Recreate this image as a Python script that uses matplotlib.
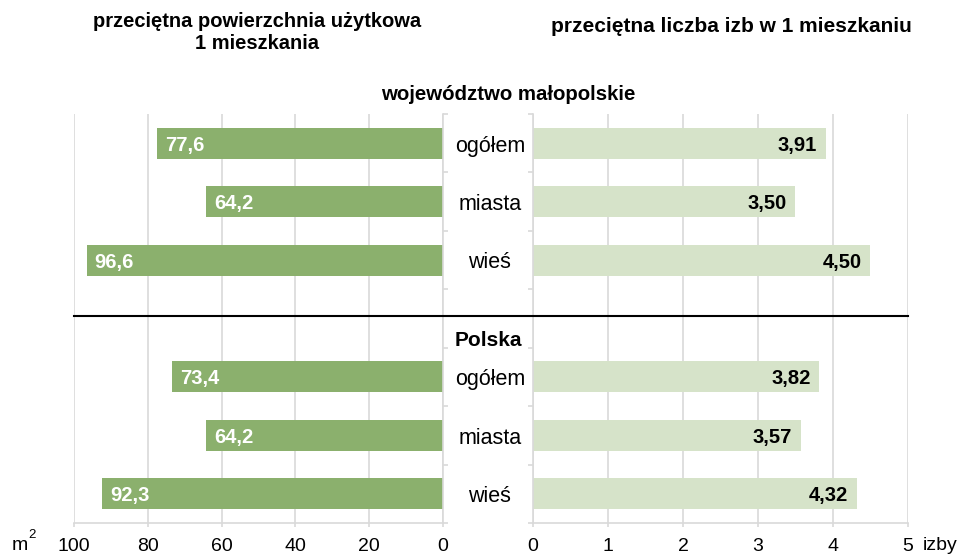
#!/usr/bin/env python3

import matplotlib
matplotlib.use('Agg')
import matplotlib.pyplot as plt
from matplotlib.lines import Line2D

plt.rcParams['font.family'] = ['Liberation Sans', 'DejaVu Sans']

# categories, top block = województwo małopolskie, bottom block = Polska
categories = ['ogółem', 'miasta', 'wieś']
area_region = [77.6, 64.2, 96.6]
area_poland = [73.4, 64.2, 92.3]
rooms_region = [3.91, 3.50, 4.50]
rooms_poland = [3.82, 3.57, 4.32]

area_labels = ['77,6', '64,2', '96,6', '73,4', '64,2', '92,3']
rooms_labels = ['3,91', '3,50', '4,50', '3,82', '3,57', '4,32']

area_ticks = [100, 80, 60, 40, 20, 0]
rooms_ticks = [0, 1, 2, 3, 4, 5]

dark_green = '#8BB06D'
light_green = '#D6E3C9'
grid_grey = '#D9D9D9'

# row slots: 0-2 region, 3 separator, 4-6 Poland
rows = [0, 1, 2, 4, 5, 6]
area = area_region + area_poland
rooms = rooms_region + rooms_poland

fig = plt.figure(figsize=(9.6, 5.55), dpi=100)
ax1 = fig.add_axes([0.0771, 0.0577, 0.3844, 0.737])
ax2 = fig.add_axes([0.5552, 0.0577, 0.3906, 0.737])

def style_axis(ax, inner):
  ax.set_ylim(6.5, -0.5)
  ax.set_axisbelow(True)
  ax.grid(axis='x', color=grid_grey, linewidth=1.2)
  for s in ['top', 'left', 'right']:
    ax.spines[s].set_visible(False)
  ax.spines[inner].set_visible(True)
  ax.spines[inner].set_color(grid_grey)
  ax.spines[inner].set_linewidth(1.2)
  ax.spines['bottom'].set_color(grid_grey)
  ax.spines['bottom'].set_linewidth(1.2)
  ax.yaxis.set_ticks_position(inner)
  ax.set_yticks([r - 0.5 for r in range(8)])
  ax.set_yticklabels([])
  ax.tick_params(axis='y', direction='out', length=3.5, color=grid_grey, width=1.2)
  ax.tick_params(axis='x', direction='out', length=3, color=grid_grey, width=1.2,
                 labelsize=14, pad=8)

# left: average floor area (reversed axis)
ax1.barh(rows, area, height=0.53, color=dark_green)
ax1.set_xlim(100, 0)
ax1.set_xticks(area_ticks)
ax1.set_xticklabels([str(t) for t in area_ticks])
style_axis(ax1, 'right')
for r, v, lab in zip(rows, area, area_labels):
  ax1.annotate(lab, (v, r), xytext=(8, -2), textcoords='offset pixels',
               ha='left', va='center', color='white', fontsize=14.5, fontweight='bold')

# right: average number of rooms
ax2.barh(rows, rooms, height=0.53, color=light_green)
ax2.set_xlim(0, 5)
ax2.set_xticks(rooms_ticks)
ax2.set_xticklabels([str(t) for t in rooms_ticks])
style_axis(ax2, 'left')
for r, v, lab in zip(rows, rooms, rooms_labels):
  ax2.annotate(lab, (v, r), xytext=(-9, -2), textcoords='offset pixels',
               ha='right', va='center', color='black', fontsize=14.5, fontweight='bold')

# category names in the gap between the two axes
x_mid = (ax1.get_position().x1 + ax2.get_position().x0) / 2
for r, name in zip(rows, categories * 2):
  y_fig = fig.transFigure.inverted().transform(ax1.transData.transform((0, r + 0.05)))[1]
  fig.text(x_mid + 0.002, y_fig, name, ha='center', va='center', fontsize=15.5)

# black separator line across both panels
y_sep = fig.transFigure.inverted().transform(ax1.transData.transform((0, 2.95)))[1]
fig.add_artist(Line2D([ax1.get_position().x0, ax2.get_position().x1], [y_sep, y_sep],
                      transform=fig.transFigure, color='black', linewidth=1.5))

y_pol = fig.transFigure.inverted().transform(ax1.transData.transform((0, 3.38)))[1]
fig.text(x_mid, y_pol, 'Polska', ha='center', va='center', fontsize=15, fontweight='bold')

fig.text(0.529, 0.830, 'województwo małopolskie', ha='center', va='center',
         fontsize=14.7, fontweight='bold')
fig.text(0.268, 0.942, 'przeciętna powierzchnia użytkowa\n1 mieszkania', ha='center',
         va='center', fontsize=14.5, fontweight='bold', linespacing=1.2)
fig.text(0.762, 0.953, 'przeciętna liczba izb w 1 mieszkaniu', ha='center', va='center',
         fontsize=15, fontweight='bold')

fig.text(0.012, 0.009, 'm', ha='left', va='baseline', fontsize=14)
fig.text(0.0293, 0.030, '2', ha='left', va='baseline', fontsize=9.5)
fig.text(0.961, 0.009, 'izby', ha='left', va='baseline', fontsize=14)

fig.savefig('out.png', dpi=100)
